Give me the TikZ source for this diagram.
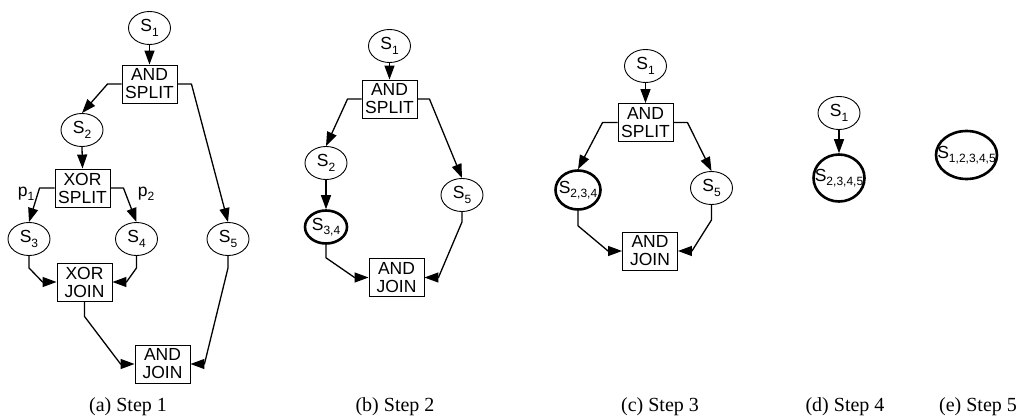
\documentclass[tikz,border=0pt]{standalone}
\usepackage{fontspec}
\setmainfont{Liberation Serif}
\newfontfamily\diagfont{Liberation Sans}
\usetikzlibrary{arrows.meta,shapes.geometric,calc}

% lowered index after a state letter
\newcommand\subidx[1]{\raisebox{-4.5pt}{\fontsize{12}{12}\selectfont #1}}
% state label that does not widen its ellipse
\newcommand\stname[1]{\makebox[0pt]{S\subidx{#1}}}

\begin{document}
\begin{tikzpicture}[x=1pt,y=-1pt,
  state/.style={ellipse, draw, line width=0.9pt, inner sep=0pt,
    minimum width=42pt, minimum height=33pt,
    font=\diagfont\fontsize{17.5}{18}\selectfont},
  merged/.style={state, line width=2.6pt},
  gate/.style={rectangle, draw, line width=0.9pt, inner sep=0pt,
    minimum width=55pt, minimum height=38pt, align=center,
    font=\diagfont\fontsize{17.5}{18}\selectfont},
  flow/.style={line width=1.3pt, line join=round,
    -{Triangle[length=14pt,width=10pt]}},
  subcap/.style={anchor=base, font=\fontsize{20}{24}\selectfont},
  prob/.style={font=\diagfont\fontsize{17.5}{18}\selectfont, inner sep=0pt}
]
\useasboundingbox (0,0) rectangle (1022,417);

% ---------------- (a) Step 1 ----------------
\node[state] (a1) at (149.5,28) {\stname{1}};
\node[gate]  (asp) at (149.5,84) {AND\\SPLIT};
\node[state] (a2) at (82,130) {\stname{2}};
\node[gate]  (axs) at (82.5,188) {XOR\\SPLIT};
\node[state] (a3) at (29,239) {\stname{3}};
\node[state] (a4) at (136.5,239) {\stname{4}};
\node[state] (a5) at (228,239) {\stname{5}};
\node[gate]  (axj) at (84.5,282) {XOR\\JOIN};
\node[gate]  (aaj) at (162.5,364) {AND\\JOIN};
\node[prob]  (p1) at (26,194) {p\subidx{1}};
\node[prob]  (p2) at (146,194) {p\subidx{2}};

\draw[flow] (a1.south) -- (asp.north);
\draw[flow] (asp.west) -- ++(-14,0) -- (a2.north);
\draw[flow] (asp.east) -- ++(14,0) -- (a5.north);
\draw[flow] (a2.south) -- (axs.north);
\draw[flow] (axs.west) -- ++(-15,0) -- (a3.north);
\draw[flow] (axs.east) -- ++(13,0) -- (a4.north);
\draw[flow] (a3.south) -- ++(0,12) -- ($(axj.west)+(-14,0)$) -- (axj.west);
\draw[flow] (a4.south) -- ++(0,12) -- ($(axj.east)+(14,0)$) -- (axj.east);
\draw[flow] (axj.south) -- ++(0,15) -- ($(aaj.west)+(-14,0)$) -- (aaj.west);
\draw[flow] (a5.south) -- ++(0,12) -- ($(aaj.east)+(14,0)$) -- (aaj.east);

\node[subcap] (capa) at (128,411) {(a) Step 1};

% ---------------- (b) Step 2 ----------------
\node[state]  (b1) at (389.5,46) {\stname{1}};
\node[gate]   (bsp) at (389.5,99) {AND\\SPLIT};
\node[state]  (b2) at (326,163) {\stname{2}};
\node[merged] (b34) at (326,227) {\stname{3,4}};
\node[state]  (b5) at (462,195) {\stname{5}};
\node[gate]   (bj) at (396.5,277.5) {AND\\JOIN};

\draw[flow] (b1.south) -- (bsp.north);
\draw[flow] (bsp.west) -- ++(-14,0) -- (b2.north);
\draw[flow] (bsp.east) -- ++(12,0) -- (b5.north);
\draw[flow] (b2.south) -- (b34.north);
\draw[flow] (b34.south) -- ++(0,13) -- ($(bj.west)+(-14,0)$) -- (bj.west);
\draw[flow] (b5.south) -- ++(0,10) -- ($(bj.east)+(14,0)$) -- (bj.east);

\node[subcap] (capb) at (395,411) {(b) Step 2};

% ---------------- (c) Step 3 ----------------
\node[state]  (c1) at (645.5,66) {\stname{1}};
\node[gate]   (csp) at (645.5,122.5) {AND\\SPLIT};
\node[merged, minimum width=45pt, minimum height=39pt] (c234) at (578,190) {\stname{2,3,4}};
\node[state]  (c5) at (711.5,188) {\stname{5}};
\node[gate]   (cj) at (650,251) {AND\\JOIN};

\draw[flow] (c1.south) -- (csp.north);
\draw[flow] (csp.west) -- ++(-15,0) -- (c234.north);
\draw[flow] (csp.east) -- ++(14,0) -- (c5.north);
\draw[flow] (c234.south) -- ++(0,15) -- ($(cj.west)+(-14,0)$) -- (cj.west);
\draw[flow] (c5.south) -- ++(0,15) -- ($(cj.east)+(14,0)$) -- (cj.east);

\node[subcap] (capc) at (660,411) {(c) Step 3};

% ---------------- (d) Step 4 ----------------
\node[state]  (d1) at (839,113) {\stname{1}};
\node[merged, minimum width=51pt, minimum height=47pt] (d2345) at (839,178) {\stname{2,3,4,5}};
\draw[flow] (d1.south) -- (d2345.north);

\node[subcap] (capd) at (845,411) {(d) Step 4};

% ---------------- (e) Step 5 ----------------
\node[merged, minimum width=61pt, minimum height=48pt] (e12345) at (966.5,155) {\stname{1,2,3,4,5}};

\node[subcap] (cape) at (978,411) {(e) Step 5};
\end{tikzpicture}
\end{document}
